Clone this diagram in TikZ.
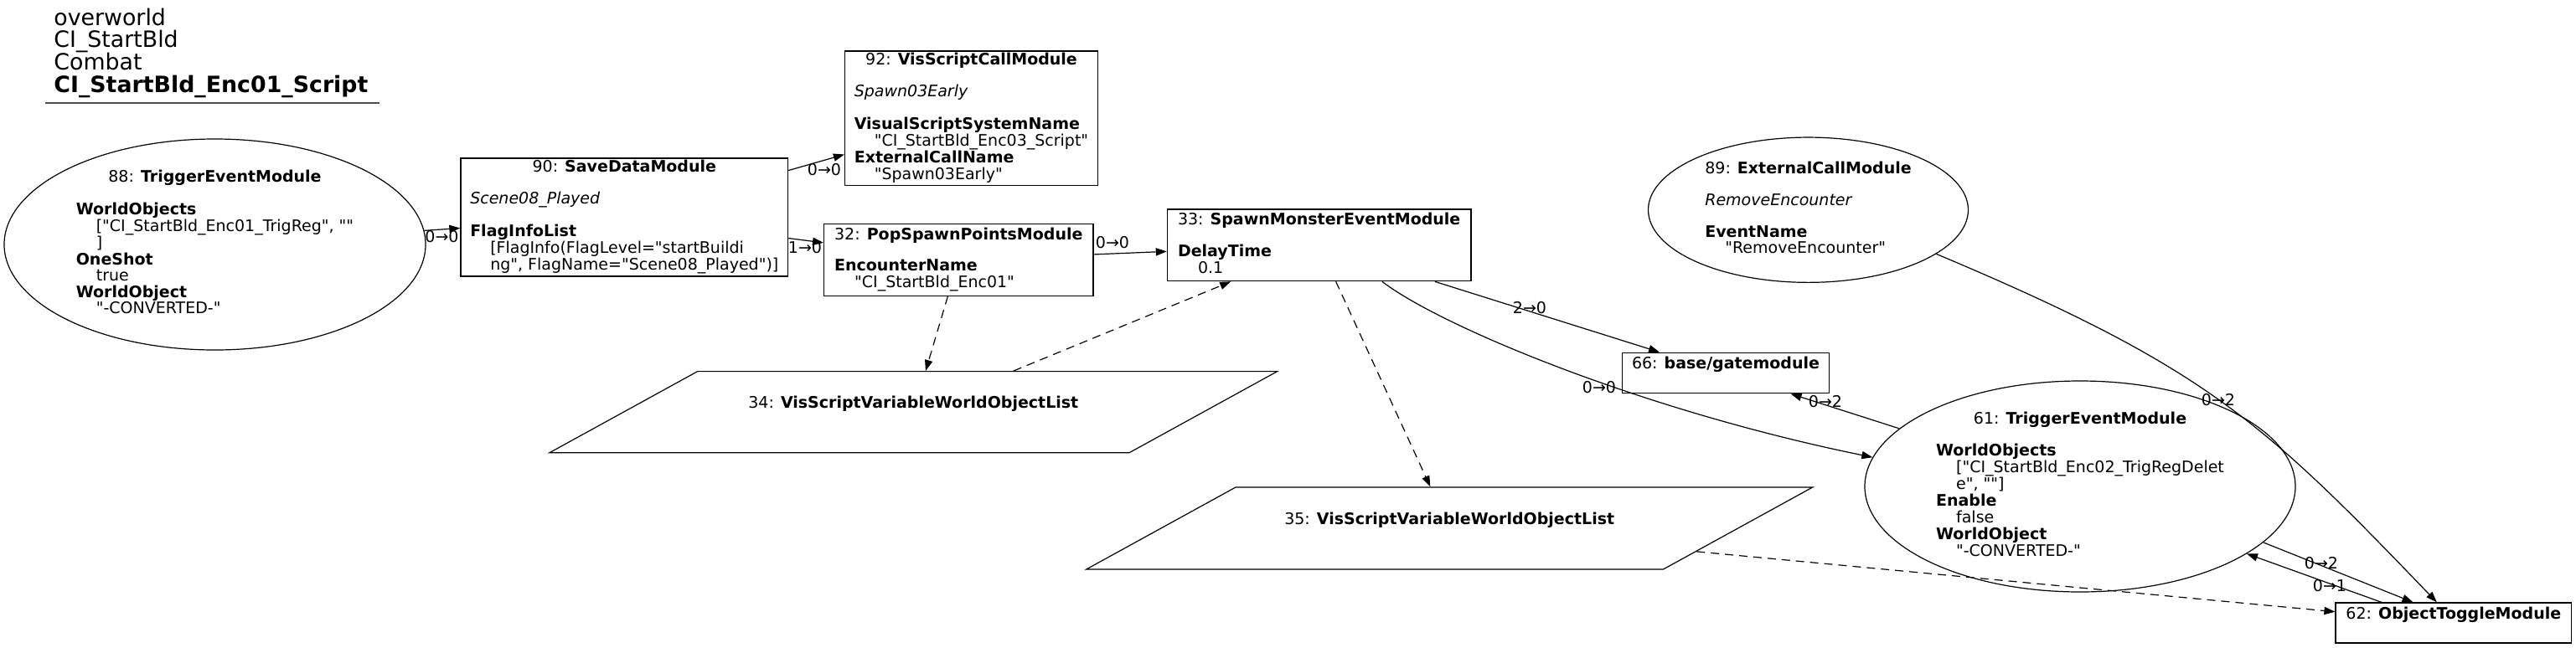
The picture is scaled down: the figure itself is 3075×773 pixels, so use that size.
\documentclass[tikz,border=0pt]{standalone}
\usepackage{fontspec}
\setmainfont{DejaVu Sans}[Ligatures=TeXOff]
\usetikzlibrary{shapes.geometric,arrows.meta}

\begin{document}
\begin{tikzpicture}[x=0.5pt,y=-0.5pt,
		every node/.style={font=\fontsize{9.5}{9.25}\selectfont, inner sep=0pt},
		modbox/.style={draw, rectangle, line width=0.6pt},
		modoval/.style={draw, ellipse, line width=0.6pt},
		varlist/.style={draw, trapezium, trapezium left angle=28.8, trapezium right angle=151.2, trapezium stretches body, line width=0.6pt},
		link/.style={line width=0.6pt, -{Triangle[length=6.5pt,width=4.6pt]}},
		reflink/.style={link, dash pattern=on 5pt off 3.5pt},
		headline/.style={anchor=base west, font=\fontsize{13.4}{13.4}\selectfont}]
			\useasboundingbox (0,0) rectangle (3075,773);
			
			\coordinate (bendA) at (1720,390);
			\coordinate (bendB) at (1960,490);
			\coordinate (bendC) at (2634,439);
			\coordinate (bendD) at (2701,503);
			
			\node[headline] (t1) at (64,30.7) {overworld};
			\node[headline] (t2) at (64,56.7) {CI\_StartBld};
			\node[headline] (t3) at (64,83.3) {Combat};
			\node[headline] (t4) at (64,110.7) {\textbf{CI\_StartBld\_Enc01\_Script}};
			\draw[line width=1pt, black!70] (54,122.7) -- (453,122.7);
			
			\node[modoval, minimum width=251.5pt, minimum height=126pt] (n88) at (256.5,292) {\begin{tabular}{@{}l@{}}\multicolumn{1}{@{}c@{}}{88: \textbf{TriggerEventModule}}\\ \\ \textbf{WorldObjects}\\ \hspace*{12pt}["CI\_StartBld\_Enc01\_TrigReg", ""\\ \hspace*{12pt}]\\ \textbf{OneShot}\\ \hspace*{12pt}true\\ \textbf{WorldObject}\\ \hspace*{12pt}"-CONVERTED-"\end{tabular}};
			\node[modbox, minimum width=195.35pt, minimum height=70.5pt] (n90) at (745.3,259.5) {\begin{tabular}{@{}l@{}}\multicolumn{1}{@{}c@{}}{90: \textbf{SaveDataModule}}\\ \\ \textit{Scene08\_Played}\\ \\ \textbf{FlagInfoList}\\ \hspace*{12pt}[FlagInfo(FlagLevel="startBuildi\\ \hspace*{12pt}ng", FlagName="Scene08\_Played")]\end{tabular}};
			\node[modbox, minimum width=151pt, minimum height=80.35pt] (n92) at (1159.5,141.3) {\begin{tabular}{@{}l@{}}\multicolumn{1}{@{}c@{}}{92: \textbf{VisScriptCallModule}}\\ \\ \textit{Spawn03Early}\\ \\ \textbf{VisualScriptSystemName}\\ \hspace*{12pt}"CI\_StartBld\_Enc03\_Script"\\ \textbf{ExternalCallName}\\ \hspace*{12pt}"Spawn03Early"\end{tabular}};
			\node[modbox, minimum width=160.7pt, minimum height=42.8pt] (n32) at (1144.3,310.5) {\begin{tabular}{@{}l@{}}\multicolumn{1}{@{}c@{}}{32: \textbf{PopSpawnPointsModule}}\\ \\ \textbf{EncounterName}\\ \hspace*{12pt}"CI\_StartBld\_Enc01"\end{tabular}};
			\node[modbox, minimum width=181.3pt, minimum height=42.85pt] (n33) at (1574.7,292.9) {\begin{tabular}{@{}l@{}}\multicolumn{1}{@{}c@{}}{33: \textbf{SpawnMonsterEventModule}}\\ \\ \textbf{DelayTime}\\ \hspace*{12pt}0.1\end{tabular}};
			\node[varlist, inner ysep=14.675pt, minimum width=434.4pt, minimum height=47.85pt] (n34) at (1090.3,492.2) {\begin{tabular}{@{}c@{}}34: \textbf{VisScriptVariableWorldObjectList}\\ \\ \end{tabular}};
			\node[varlist, inner ysep=14.9pt, minimum width=433.55pt, minimum height=48.3pt] (n35) at (1730.2,631) {\begin{tabular}{@{}c@{}}35: \textbf{VisScriptVariableWorldObjectList}\\ \\ \end{tabular}};
			\node[modoval, minimum width=191pt, minimum height=86.65pt] (n89) at (2158.5,250.7) {\begin{tabular}{@{}l@{}}\multicolumn{1}{@{}c@{}}{89: \textbf{ExternalCallModule}}\\ \\ \textit{RemoveEncounter}\\ \\ \textbf{EventName}\\ \hspace*{12pt}"RemoveEncounter"\end{tabular}};
			\node[modbox, minimum width=123.5pt, minimum height=24.25pt] (n66) at (2060,445.5) {\begin{tabular}{@{}c@{}}66: \textbf{base/gatemodule}\\ \\ \end{tabular}};
			\node[modoval, minimum width=257pt, minimum height=126pt] (n61) at (2483,581) {\begin{tabular}{@{}l@{}}\multicolumn{1}{@{}c@{}}{61: \textbf{TriggerEventModule}}\\ \\ \textbf{WorldObjects}\\ \hspace*{12pt}["CI\_StartBld\_Enc02\_TrigRegDelet\\ \hspace*{12pt}e", ""]\\ \textbf{Enable}\\ \hspace*{12pt}false\\ \textbf{WorldObject}\\ \hspace*{12pt}"-CONVERTED-"\end{tabular}};
			\node[modbox, minimum width=140.75pt, minimum height=24pt] (n62) at (2928.8,744) {\begin{tabular}{@{}c@{}}62: \textbf{ObjectToggleModule}\\ \\ \end{tabular}};
			
			\draw[link] (n88) -- (n90);
			\draw[link] (n90) -- (n92);
			\draw[link] (n90) -- (n32);
			\draw[link] (n32) -- (n33);
			\draw[link] (n33) -- (n66);
			\draw[link] (n33.-30.8) .. controls (bendA) and (bendB) .. (n61.172.5);
			\draw[link] (n61) -- (n66);
			\draw[link] (n89.-19.7) .. controls (bendC) and (bendD) .. (n62.129.7);
			\draw[link] (n61.-17.7) -- (n62.153.8);
			\draw[link] (n62.164.2) -- (n61.-22.2);
			\draw[reflink] (n32) -- (n34);
			\draw[reflink] (n34) -- (n33);
			\draw[reflink] (n33) -- (n35);
			\draw[reflink] (n35) -- (n62);
			
			\node (p88) at (527.5,283) {0→0};
			\node (p90a) at (984,202.5) {0→0};
			\node (p90b) at (961,295.5) {1→0};
			\node (p32) at (1328,290) {0→0};
			\node (p33a) at (1826,367.5) {2→0};
			\node (p33b) at (1909,462.5) {0→0};
			\node (p61a) at (2179,480) {0→2};
			\node (p89) at (2648,478) {0→2};
			\node (p61b) at (2771,673) {0→2};
			\node (p62) at (2781,700) {0→1};
		\end{tikzpicture}
\end{document}
